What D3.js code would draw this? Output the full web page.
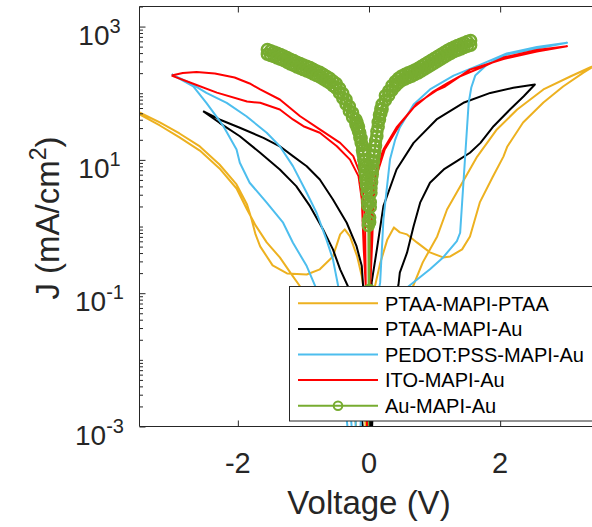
<!DOCTYPE html>
<html>
<head>
<meta charset="utf-8">
<script src="https://cdn.jsdelivr.net/npm/d3@7"></script>
<style>
  html, body { margin: 0; padding: 0; background: #fff; }
  svg { display: block; font-family: "Liberation Sans", Arial, Helvetica, sans-serif; }
</style>
</head>
<body>
<svg id="chart" width="592" height="527"></svg>
<script>
// ---- Axis ticks ----
const xTicks = [-2, 0, 2];
const yTicks = [1e-3, 1e-1, 1e1, 1e3];

// ---- Series: [voltage (V), current density (mA/cm^2)] in sweep order ----
const ptaaMapiPtaa = [
  [-3.50, 48.0], [-3.19, 32.8], [-2.89, 21.7], [-2.58, 13.8], [-2.28, 7.43], [-2.02, 3.72],
  [-1.86, 1.80], [-1.73, 1.04], [-1.56, 0.578], [-1.36, 0.344], [-1.16, 0.179], [-1.05, 0.126],
  [-0.75, 0.020], [-0.26, 0.0026], [-0.04, 0.0001],
  [0.09, 0.126], [0.17, 0.280], [0.28, 0.641], [0.38, 0.970], [0.47, 0.817], [0.58, 0.762],
  [0.73, 0.578], [0.93, 0.409], [1.13, 0.344], [1.24, 0.356], [1.42, 0.454], [1.54, 0.711],
  [1.69, 2.30], [1.89, 5.64], [2.05, 11.2], [2.11, 15.9], [2.35, 36.4], [2.66, 72.6],
  [2.96, 126], [3.27, 204], [3.50, 279],
  [3.37, 243], [3.07, 178], [2.66, 114], [2.26, 57.0], [1.95, 28.6], [1.65, 11.2],
  [1.39, 3.99], [1.19, 1.80], [1.04, 0.711], [0.82, 0.290], [0.67, 0.126], [0.40, 0.0145],
  [0.03, 0.0018], [-0.04, 0.0001],
  [-0.08, 0.114], [-0.11, 0.179], [-0.18, 0.356], [-0.29, 0.711], [-0.37, 0.906], [-0.44, 0.762],
  [-0.55, 0.356], [-0.75, 0.228], [-0.95, 0.191], [-1.25, 0.198], [-1.47, 0.261], [-1.66, 0.504],
  [-1.73, 0.762], [-1.79, 1.28], [-1.86, 2.14], [-2.02, 4.28], [-2.28, 8.53], [-2.58, 15.9],
  [-2.89, 24.9], [-3.19, 36.4], [-3.50, 51.4]
];

const ptaaMapiAu = [
  [-2.53, 53.7], [-2.28, 36.0], [-1.97, 22.6], [-1.66, 12.8], [-1.36, 7.18], [-1.11, 4.04],
  [-0.90, 2.02], [-0.70, 0.906], [-0.55, 0.454], [-0.44, 0.228], [-0.32, 0.126],
  [-0.14, 0.0026], [0.01, 0.0001],
  [0.04, 0.144], [0.12, 0.454], [0.22, 2.02], [0.42, 7.18], [0.68, 18.0], [1.03, 40.4],
  [1.44, 71.8], [1.85, 101], [2.20, 121], [2.53, 135],
  [2.36, 90.2], [2.15, 57.0], [1.90, 32.0], [1.70, 18.0], [1.54, 12.8], [1.34, 9.55],
  [1.14, 7.18], [0.93, 4.54], [0.78, 2.28], [0.68, 1.01], [0.58, 0.405], [0.47, 0.203],
  [0.45, 0.135], [0.06, 0.00214], [0.01, 0.0001],
  [-0.09, 0.128], [-0.11, 0.255], [-0.19, 0.508], [-0.34, 1.14], [-0.55, 2.55], [-0.75, 5.08],
  [-0.95, 8.04], [-1.16, 11.4], [-1.36, 16.0], [-1.61, 21.4], [-1.97, 30.3], [-2.28, 40.4],
  [-2.53, 53.7]
];

const pedotMapiAu = [
  [-3.01, 191], [-2.68, 127], [-2.48, 71.8], [-2.22, 32.0], [-2.02, 14.3], [-1.97, 9.06],
  [-1.82, 4.54], [-1.56, 2.28], [-1.31, 1.14], [-1.16, 0.571], [-0.95, 0.255], [-0.82, 0.128],
  [-0.37, 0.0026], [-0.23, 0.0001], [-0.20, 0.0015],
  [0.17, 0.144], [0.22, 1.28], [0.27, 3.6], [0.32, 10.1], [0.40, 20.2], [0.47, 30.6],
  [0.68, 67.8], [0.93, 114], [1.29, 184], [1.70, 269], [2.10, 394], [2.56, 493], [3.02, 570],
  [2.56, 468], [2.10, 380], [1.80, 269], [1.62, 184], [1.56, 122], [1.52, 71.8], [1.49, 25.5],
  [1.44, 4.54], [1.39, 0.807], [1.34, 0.604], [1.13, 0.344], [0.93, 0.228], [0.60, 0.126],
  [-0.11, 0.00214], [-0.19, 0.0001],
  [-0.29, 0.00214], [-0.47, 0.128], [-0.55, 0.321], [-0.65, 0.641], [-0.80, 1.61], [-0.95, 3.21],
  [-1.16, 8.05], [-1.36, 16.0], [-1.56, 25.5], [-1.87, 45.2], [-2.17, 71.8], [-2.48, 101],
  [-2.73, 143], [-3.01, 191]
];

const itoMapiAu = [
  [-3.01, 184], [-2.73, 145], [-2.32, 102], [-1.86, 75.2], [-1.66, 71.8], [-1.36, 57.0],
  [-1.16, 40.4], [-1.00, 32.0], [-0.75, 25.5], [-0.49, 16.0], [-0.29, 10.1], [-0.16, 5.70],
  [-0.11, 2.55], [-0.08, 0.454], [-0.05, 0.131], [-0.02, 0.0001],
  [0.015, 0.454], [0.04, 1.28], [0.06, 3.03], [0.11, 7.18], [0.22, 14.3], [0.42, 30.6],
  [0.68, 61.1], [0.98, 106], [1.19, 140], [1.39, 180], [1.70, 240], [2.05, 343], [2.56, 445],
  [3.02, 507],
  [2.56, 422], [2.05, 326], [1.54, 226], [1.16, 126], [1.03, 110], [0.73, 70.1], [0.47, 34.0],
  [0.24, 14.3], [0.12, 6.04], [0.07, 2.55], [0.05, 0.641], [0.02, 0.131], [-0.02, 0.0001],
  [-0.05, 0.131], [-0.06, 1.28], [-0.09, 3.21], [-0.14, 6.41], [-0.24, 11.4], [-0.44, 18.0],
  [-0.75, 28.6], [-1.05, 45.2], [-1.36, 80.5], [-1.66, 114], [-1.82, 140], [-2.05, 172],
  [-2.35, 197], [-2.63, 208], [-2.84, 201], [-3.01, 184]
];

const auMapiAu = [
  [0, 0.0005], [0.005, 0.09], [0.01, 1.16], [0.02, 1.97], [0.03, 3.20], [0.04, 4.62],
  [0.05, 6.10], [0.06, 7.85], [0.07, 9.66], [0.08, 11.6], [0.09, 13.7], [0.10, 16.4],
  [0.12, 22.6], [0.14, 31.3], [0.16, 40.3], [0.18, 49.5], [0.20, 58.2], [0.25, 78.5],
  [0.30, 92.3], [0.35, 111], [0.40, 127], [0.45, 143], [0.50, 155], [0.55, 164], [0.60, 172],
  [0.65, 180], [0.70, 191], [0.75, 202], [0.80, 216], [0.85, 232], [0.90, 248], [0.95, 266],
  [1.00, 285], [1.05, 305], [1.10, 327], [1.15, 351], [1.20, 376], [1.25, 398], [1.30, 422],
  [1.35, 442], [1.40, 462], [1.45, 484], [1.50, 507], [1.55, 525],
  [1.55, 617], [1.50, 596], [1.45, 569], [1.40, 543], [1.35, 519], [1.30, 495], [1.25, 468],
  [1.20, 442], [1.15, 412], [1.10, 385], [1.05, 359], [1.00, 335], [0.95, 313], [0.90, 292],
  [0.85, 272], [0.80, 254], [0.75, 237], [0.70, 224], [0.65, 211], [0.60, 202], [0.55, 193],
  [0.50, 182], [0.45, 168], [0.40, 150], [0.35, 130], [0.30, 108], [0.25, 92.3], [0.20, 68.4],
  [0.18, 58.2], [0.16, 47.3], [0.14, 36.7], [0.12, 26.6], [0.10, 19.3], [0.09, 16.0],
  [0.08, 13.7], [0.07, 11.4], [0.06, 9.23], [0.05, 7.16], [0.04, 5.43], [0.03, 3.76],
  [0.02, 2.32], [0.01, 1.37], [0.005, 0.11], [0, 0.0005],
  [-0.005, 0.1], [-0.01, 1.22], [-0.02, 2.43], [-0.03, 3.85], [-0.04, 4.95], [-0.05, 5.96],
  [-0.06, 7.67], [-0.07, 9.66], [-0.08, 11.9], [-0.09, 14.3], [-0.10, 16.4], [-0.12, 21.1],
  [-0.14, 25.4], [-0.16, 31.3], [-0.18, 35.9], [-0.20, 40.3], [-0.25, 50.7], [-0.30, 63.8],
  [-0.35, 80.4], [-0.40, 98.9], [-0.45, 119], [-0.50, 140], [-0.55, 153], [-0.60, 168],
  [-0.65, 180], [-0.70, 193], [-0.75, 207], [-0.80, 216], [-0.85, 229], [-0.90, 243],
  [-0.95, 254], [-1.00, 266], [-1.05, 279], [-1.10, 292], [-1.15, 309], [-1.20, 324],
  [-1.25, 343], [-1.30, 363], [-1.35, 380], [-1.40, 398], [-1.45, 417], [-1.50, 432], [-1.55, 452],
  [-1.55, 385], [-1.50, 367], [-1.45, 355], [-1.40, 339], [-1.35, 324], [-1.30, 309],
  [-1.25, 292], [-1.20, 275], [-1.15, 263], [-1.10, 248], [-1.05, 237], [-1.00, 226],
  [-0.95, 216], [-0.90, 207], [-0.85, 195], [-0.80, 184], [-0.75, 176], [-0.70, 164],
  [-0.65, 153], [-0.60, 143], [-0.55, 130], [-0.50, 119], [-0.45, 101], [-0.40, 84.1],
  [-0.35, 68.4], [-0.30, 54.3], [-0.25, 43.2], [-0.20, 34.3], [-0.18, 30.5], [-0.16, 26.6],
  [-0.14, 21.6], [-0.12, 18.0], [-0.10, 14.0], [-0.09, 12.2], [-0.08, 10.1], [-0.07, 8.22],
  [-0.06, 6.53], [-0.05, 5.07], [-0.04, 4.22], [-0.03, 3.27], [-0.02, 2.07], [-0.01, 1.04],
  [-0.005, 0.09], [0, 0.0005]
];

const seriesNames = ["PTAA-MAPI-PTAA", "PTAA-MAPI-Au", "PEDOT:PSS-MAPI-Au", "ITO-MAPI-Au", "Au-MAPI-Au"];
const seriesData = [ptaaMapiPtaa, ptaaMapiAu, pedotMapiAu, itoMapiAu, auMapiAu];
const seriesColors = ["#EDB120", "#000000", "#4DBEEE", "#FF0000", "#77AC30"];
const seriesMarkers = [false, false, false, false, true];

// ---- Layout ----
const svg = d3.select("#chart");
const axisColor = "#262626";
const plot = { left: 139.5, right: 598.5, top: 6.5, bottom: 426.5 };

const x = d3.scaleLinear().domain([-3.5, 3.5]).range([plot.left, plot.right]);
const y = d3.scaleLog().domain([1e-3, 2e3]).range([plot.bottom, plot.top]);

svg.append("rect").attr("width", 592).attr("height", 527).attr("fill", "#fff");

svg.append("defs").append("clipPath").attr("id", "plotClip")
  .append("rect")
  .attr("x", plot.left).attr("y", plot.top)
  .attr("width", plot.right - plot.left).attr("height", plot.bottom - plot.top);

// ---- Curves ----
const line = d3.line().x(d => x(d[0])).y(d => y(d[1]));
const curves = svg.append("g").attr("clip-path", "url(#plotClip)");

seriesData.forEach((data, i) => {
  const g = curves.append("g");
  g.append("path")
    .datum(data)
    .attr("d", line)
    .attr("fill", "none")
    .attr("stroke", seriesColors[i])
    .attr("stroke-width", 2)
    .attr("stroke-linejoin", "round");
  if (seriesMarkers[i]) {
    // open circle markers at every measured point
    g.selectAll("circle")
      .data(data)
      .join("circle")
      .attr("cx", d => x(d[0]))
      .attr("cy", d => y(d[1]))
      .attr("r", 5.5)
      .attr("fill", "none")
      .attr("stroke", seriesColors[i])
      .attr("stroke-width", 2.5);
  }
});

// ---- Axes ----
const axes = svg.append("g");

// x ticks (inside, bottom and top)
axes.append("g")
  .attr("transform", `translate(0,${plot.bottom})`)
  .call(d3.axisBottom(x).tickValues(xTicks).tickSizeInner(-6).tickSizeOuter(0).tickFormat(""))
  .call(g => g.select(".domain").remove())
  .call(g => g.selectAll(".tick line").attr("stroke", axisColor));

axes.append("g")
  .attr("transform", `translate(0,${plot.top})`)
  .call(d3.axisTop(x).tickValues(xTicks).tickSizeInner(-6).tickSizeOuter(0).tickFormat(""))
  .call(g => g.select(".domain").remove())
  .call(g => g.selectAll(".tick line").attr("stroke", axisColor));

// y major ticks
axes.append("g")
  .attr("transform", `translate(${plot.left},0)`)
  .call(d3.axisLeft(y).tickValues(yTicks).tickSizeInner(-6).tickSizeOuter(0).tickFormat(""))
  .call(g => g.select(".domain").remove())
  .call(g => g.selectAll(".tick line").attr("stroke", axisColor));

// y minor ticks
const yMinor = [];
for (let e = -3; e <= 3; e++) {
  for (let k = 1; k <= 9; k++) {
    const v = k * Math.pow(10, e);
    if (v <= 2e3 && !yTicks.some(t => Math.abs(t - v) / t < 1e-9)) yMinor.push(v);
  }
}
axes.append("g")
  .attr("transform", `translate(${plot.left},0)`)
  .call(d3.axisLeft(y).tickValues(yMinor).tickSizeInner(-3.5).tickSizeOuter(0).tickFormat(""))
  .call(g => g.select(".domain").remove())
  .call(g => g.selectAll(".tick line").attr("stroke", axisColor));

// frame
axes.append("path")
  .attr("d", `M${plot.left},${plot.bottom}V${plot.top}H${plot.right}V${plot.bottom}Z`)
  .attr("fill", "none")
  .attr("stroke", axisColor)
  .attr("stroke-width", 1);

// x tick labels
axes.selectAll(".xlab")
  .data(xTicks)
  .join("text")
  .attr("x", d => x(d))
  .attr("y", 473)
  .attr("text-anchor", "middle")
  .attr("font-size", 29)
  .attr("fill", axisColor)
  .text(d => String(d));

// y tick labels as powers of ten
const ylab = axes.selectAll(".ylab")
  .data(yTicks)
  .join("text")
  .attr("x", 99.5)
  .attr("y", d => y(d) + 18)
  .attr("text-anchor", "middle")
  .attr("fill", axisColor);
ylab.append("tspan").attr("font-size", 28).text("10");
ylab.append("tspan").attr("font-size", 20).attr("dy", -12)
  .text(d => String(Math.round(Math.log10(d))));

// axis titles
svg.append("text")
  .attr("x", x(0))
  .attr("y", 514)
  .attr("text-anchor", "middle")
  .attr("font-size", 33)
  .attr("fill", axisColor)
  .text("Voltage (V)");

const yTitle = svg.append("text")
  .attr("transform", "translate(59,218) rotate(-90)")
  .attr("text-anchor", "middle")
  .attr("font-size", 33)
  .attr("fill", axisColor);
yTitle.append("tspan").text("J (mA/cm");
yTitle.append("tspan").attr("font-size", 23).attr("dy", -13).text("2");
yTitle.append("tspan").attr("dy", 13).text(")");

// ---- Legend ----
const legend = svg.append("g");
legend.append("rect")
  .attr("x", 289.5).attr("y", 286.5)
  .attr("width", 320).attr("height", 134.5)
  .attr("fill", "#fff")
  .attr("stroke", axisColor)
  .attr("stroke-width", 1);

const rows = legend.selectAll(".row")
  .data(seriesNames)
  .join("g")
  .attr("transform", (d, i) => `translate(0,${303.3 + i * 25.6})`);
rows.append("line")
  .attr("x1", 298).attr("x2", 378)
  .attr("stroke", (d, i) => seriesColors[i])
  .attr("stroke-width", 2);
rows.filter((d, i) => seriesMarkers[i])
  .append("circle")
  .attr("cx", 338).attr("r", 4.3)
  .attr("fill", "none")
  .attr("stroke", seriesColors[4])
  .attr("stroke-width", 2);
rows.append("text")
  .attr("x", 385)
  .attr("dy", "0.36em")
  .attr("font-size", 20)
  .attr("fill", "#000")
  .text(d => d);
</script>
</body>
</html>
